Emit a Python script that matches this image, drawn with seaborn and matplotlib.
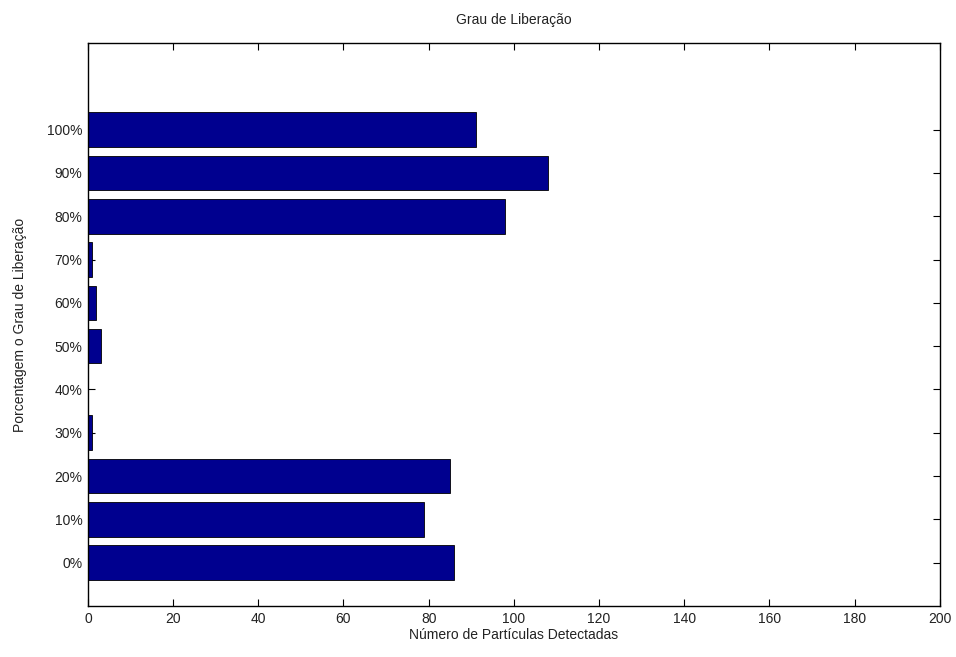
import matplotlib
matplotlib.use("Agg")
import matplotlib.pyplot as plt
import seaborn as sns
import pandas as pd
import numpy as np

# Degree-of-liberation classes and particle counts
classes = ["0%", "10%", "20%", "30%", "40%", "50%", "60%", "70%", "80%", "90%", "100%"]
counts = [86, 79, 85, 1, 0, 3, 2, 1, 98, 108, 91]

sns.set_theme(style="white")
plt.rcParams["font.family"] = ["Liberation Sans", "DejaVu Sans"]

df = pd.DataFrame({"classe": classes, "n": counts, "pos": np.arange(1, len(classes) + 1)})

fig = plt.figure(figsize=(9.56, 6.57), dpi=100)
ax = fig.add_axes([0.092, 0.0776, 0.891, 0.857])

ax.barh(df["pos"], df["n"], height=0.8, color="#00008F",
        edgecolor="black", linewidth=0.6)

ax.set_xlim(0, 200)
ax.set_ylim(0, 13)
ax.set_xticks(np.arange(0, 201, 20))
ax.set_yticks(df["pos"])
ax.set_yticklabels(df["classe"])

for side in ["top", "right", "bottom", "left"]:
    ax.spines[side].set_visible(True)
    ax.spines[side].set_color("black")
    ax.spines[side].set_linewidth(1.0)

ax.tick_params(axis="both", which="both", direction="in", length=5, width=0.8,
               top=True, right=True, bottom=True, left=True,
               labelsize=10, colors="black", pad=4)
for lab in ax.get_xticklabels() + ax.get_yticklabels():
    lab.set_color("#222222")

ax.set_title("Grau de Liberação", fontsize=10, color="#222222", pad=14)
ax.set_xlabel("Número de Partículas Detectadas", fontsize=10, color="#222222", labelpad=2)
ax.set_ylabel("Porcentagem o Grau de Liberação", fontsize=10, color="#222222", labelpad=14)

fig.savefig("out.png", dpi=100, facecolor="white")
